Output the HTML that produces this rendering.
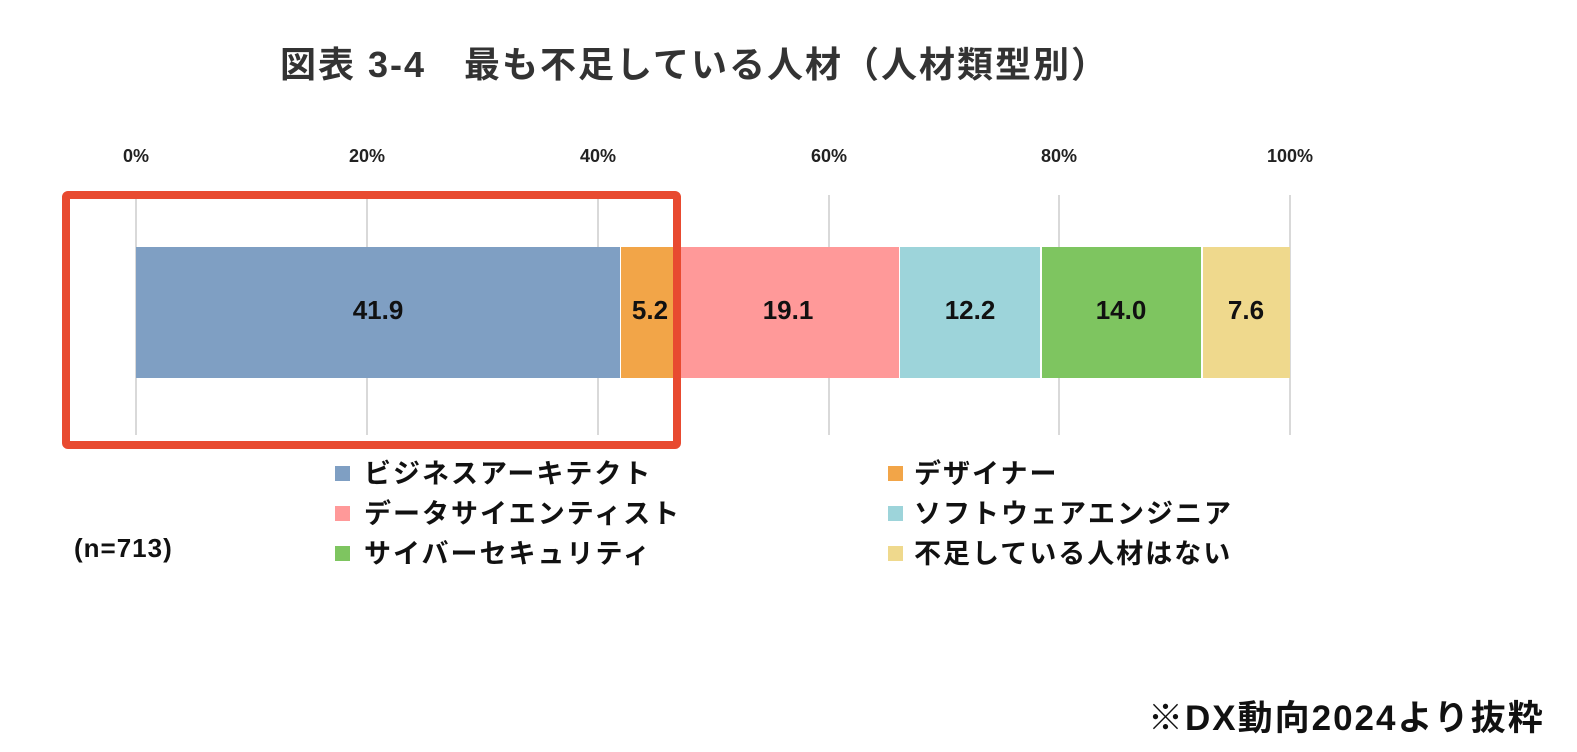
<!DOCTYPE html>
<html><head><meta charset="utf-8"><style>
body{margin:0;width:1577px;height:752px;background:#fff;position:relative;overflow:hidden;font-family:"Liberation Sans","Noto Sans CJK JP",sans-serif;}
.a{position:absolute;white-space:nowrap;}
.t{font-size:18px;font-weight:bold;color:#222;transform:translateX(-50%);top:146px;}
.g{position:absolute;top:195px;height:240px;width:2px;background:#d9d9d9;}
.s{position:absolute;top:247px;height:131px;}
.v{position:absolute;top:295px;font-size:26px;font-weight:bold;color:#111;transform:translateX(-50%);}
.l{font-size:27px;font-weight:bold;color:#111;letter-spacing:2px;}
.sq{position:absolute;width:15px;height:15px;}
</style></head><body>
<div class="a" style="left:280px;top:36px;font-size:36px;font-weight:bold;color:#333;letter-spacing:2px;">図表 3-4　最も不足している人材（人材類型別）</div>
<div class="a t" style="left:136px">0%</div>
<div class="a t" style="left:367px">20%</div>
<div class="a t" style="left:598px">40%</div>
<div class="a t" style="left:829px">60%</div>
<div class="a t" style="left:1059px">80%</div>
<div class="a t" style="left:1290px">100%</div>
<div class="g" style="left:135px"></div><div class="g" style="left:366px"></div><div class="g" style="left:597px"></div><div class="g" style="left:828px"></div><div class="g" style="left:1058px"></div><div class="g" style="left:1289px"></div>
<div class="s" style="left:136px;width:484px;background:#7f9fc3"></div>
<div class="s" style="left:621px;width:55px;background:#f2a548"></div>
<div class="s" style="left:677px;width:222px;background:#ff9999"></div>
<div class="s" style="left:900px;width:140px;background:#9dd4da"></div>
<div class="s" style="left:1042px;width:159px;background:#7ec560"></div>
<div class="s" style="left:1203px;width:87px;background:#efd98d"></div>
<div class="v" style="left:378px">41.9</div>
<div class="v" style="left:650px">5.2</div>
<div class="v" style="left:788px">19.1</div>
<div class="v" style="left:970px">12.2</div>
<div class="v" style="left:1121px">14.0</div>
<div class="v" style="left:1246px">7.6</div>
<div class="a" style="left:62px;top:191px;width:603px;height:242px;border:8px solid #e84a30;border-radius:6px;"></div>
<div class="sq" style="left:335px;top:466px;background:#7f9fc3"></div><div class="a l" style="left:364px;top:452px">ビジネスアーキテクト</div>
<div class="sq" style="left:335px;top:506px;background:#ff9999"></div><div class="a l" style="left:364px;top:492px">データサイエンティスト</div>
<div class="sq" style="left:335px;top:546px;background:#7ec560"></div><div class="a l" style="left:364px;top:532px">サイバーセキュリティ</div>
<div class="sq" style="left:888px;top:466px;background:#f2a548"></div><div class="a l" style="left:914px;top:452px">デザイナー</div>
<div class="sq" style="left:888px;top:506px;background:#9dd4da"></div><div class="a l" style="left:914px;top:492px">ソフトウェアエンジニア</div>
<div class="sq" style="left:888px;top:546px;background:#efd98d"></div><div class="a l" style="left:914px;top:532px">不足している人材はない</div>
<div class="a l" style="left:74px;top:533px;font-size:26px;letter-spacing:1px">(n=713)</div>
<div class="a" style="left:1148px;top:690px;font-size:35px;font-weight:bold;color:#111;letter-spacing:2px">※DX動向2024より抜粋</div>
</body></html>
